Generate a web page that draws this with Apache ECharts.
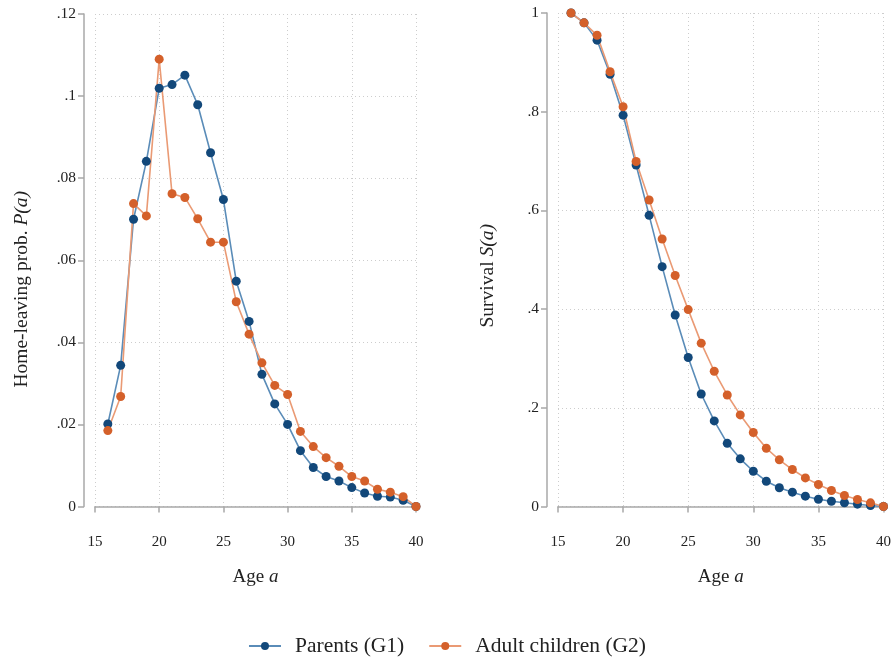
<!DOCTYPE html>
<html>
<head>
<meta charset="utf-8">
<script src="https://cdn.jsdelivr.net/npm/echarts@6/dist/echarts.min.js"></script>
<style>
  html, body { margin: 0; padding: 0; background: #fff; }
  #chart { width: 894px; height: 662px; }
</style>
</head>
<body>
<div id="chart"></div>
<script>
// Ages covered by both panels
const ages = [16, 17, 18, 19, 20, 21, 22, 23, 24, 25, 26, 27, 28, 29, 30,
              31, 32, 33, 34, 35, 36, 37, 38, 39, 40];

// Home-leaving probability P(a)
const parentsP = [0.0201, 0.0344, 0.0700, 0.0841, 0.1019, 0.1028, 0.1051, 0.0979, 0.0862, 0.0748,
                  0.0549, 0.0451, 0.0322, 0.0250, 0.0200, 0.0136, 0.0095, 0.0073, 0.0062, 0.0046,
                  0.0033, 0.0025, 0.0023, 0.0015, 0];
const childrenP = [0.0185, 0.0268, 0.0738, 0.0708, 0.1090, 0.0762, 0.0753, 0.0701, 0.0644, 0.0644,
                   0.0499, 0.0420, 0.0350, 0.0295, 0.0273, 0.0183, 0.0146, 0.0119, 0.0098, 0.0073,
                   0.0062, 0.0042, 0.0035, 0.0024, 0];

// Survival S(a)
const parentsS = [1, 0.980, 0.945, 0.876, 0.793, 0.692, 0.590, 0.486, 0.388, 0.302,
                  0.228, 0.1735, 0.128, 0.0966, 0.0715, 0.0512, 0.0379, 0.029, 0.0209, 0.0148,
                  0.0107, 0.0075, 0.0047, 0.002, 0];
const childrenS = [1, 0.980, 0.955, 0.881, 0.810, 0.699, 0.621, 0.542, 0.468, 0.399,
                   0.331, 0.274, 0.226, 0.1856, 0.150, 0.118, 0.0945, 0.0749, 0.058, 0.0445,
                   0.0324, 0.0223, 0.0142, 0.0074, 0];

const seriesNames = ['Parents (G1)', 'Adult children (G2)'];
const xTicks = [15, 20, 25, 30, 35, 40];
const yTicksLeft = ['0', '.02', '.04', '.06', '.08', '.1', '.12'];
const yTicksRight = ['0', '.2', '.4', '.6', '.8', '1'];

const FONT = '"Liberation Serif", "DejaVu Serif", serif';
const TEXT = '#222';
const AXIS = '#a8a8a8';
const GRIDC = '#cdcdcd';
const BLUE = '#12487a', BLUE_LINE = '#5a8cb8';
const ORANGE = '#d4602a', ORANGE_LINE = '#ea9a74';

const pairs = (ys) => ages.map((a, i) => [a, ys[i]]);

function xAxisFor(gridIndex) {
  return {
    gridIndex, type: 'value', min: xTicks[0], max: xTicks[xTicks.length - 1], interval: 5,
    offset: 11,
    name: 'Age {i|a}', nameLocation: 'middle', nameGap: 50,
    nameTextStyle: { fontFamily: FONT, fontSize: 19, color: TEXT,
      rich: { i: { fontFamily: FONT, fontSize: 19, fontStyle: 'italic', color: TEXT } } },
    axisLine: { show: true, lineStyle: { color: AXIS, width: 1.5 } },
    axisTick: { show: true, length: 6, lineStyle: { color: AXIS, width: 1.5 } },
    axisLabel: { fontFamily: FONT, fontSize: 15, color: TEXT, margin: 17 },
    splitLine: { show: true, lineStyle: { color: GRIDC, type: [1, 3], width: 1 } }
  };
}

function yAxisFor(gridIndex, max, interval, labels, name, padRight, gap) {
  return {
    gridIndex, type: 'value', min: 0, max, interval,
    offset: 11,
    name, nameLocation: 'middle', nameGap: gap,
    nameTextStyle: { fontFamily: FONT, fontSize: 19.5, color: TEXT, padding: [0, padRight, 0, 0],
      rich: { i: { fontFamily: FONT, fontSize: 19.5, fontStyle: 'italic', color: TEXT } } },
    axisLine: { show: true, lineStyle: { color: AXIS, width: 1.5 } },
    axisTick: { show: true, length: 6, lineStyle: { color: AXIS, width: 1.5 } },
    axisLabel: { fontFamily: FONT, fontSize: 15.5, color: TEXT, margin: 8,
      formatter: (v) => labels[Math.round(v / interval)] },
    splitLine: { show: true, lineStyle: { color: GRIDC, type: [1, 3], width: 1 } }
  };
}

function lineSeries(name, data, xi, color, lineColor) {
  return {
    name, type: 'line', xAxisIndex: xi, yAxisIndex: xi, data,
    symbol: 'circle', symbolSize: 9, clip: false,
    itemStyle: { color },
    lineStyle: { color: lineColor, width: 1.6 },
    emphasis: { disabled: true },
    animation: false
  };
}

const chart = echarts.init(document.getElementById('chart'), null, { renderer: 'canvas' });
chart.setOption({
  backgroundColor: '#fff',
  animation: false,
  grid: [
    { left: 95, top: 14, width: 321, height: 492.5 },
    { left: 558, top: 13, width: 327, height: 493.5 }
  ],
  xAxis: [xAxisFor(0), xAxisFor(1)],
  yAxis: [
    yAxisFor(0, 0.12, 0.02, yTicksLeft, 'Home-leaving prob. {i|P(a)}', 58, 52),
    yAxisFor(1, 1, 0.2, yTicksRight, 'Survival {i|S(a)}', 32, 49)
  ],
  legend: {
    data: seriesNames, top: 630, left: 'center',
    itemWidth: 32, itemHeight: 10, itemGap: 24,
    textStyle: { fontFamily: FONT, fontSize: 21.5, color: TEXT, padding: [0, 0, 0, 9] }
  },
  series: [
    lineSeries(seriesNames[0], pairs(parentsP), 0, BLUE, BLUE_LINE),
    lineSeries(seriesNames[1], pairs(childrenP), 0, ORANGE, ORANGE_LINE),
    lineSeries(seriesNames[0], pairs(parentsS), 1, BLUE, BLUE_LINE),
    lineSeries(seriesNames[1], pairs(childrenS), 1, ORANGE, ORANGE_LINE)
  ]
});
</script>
</body>
</html>
